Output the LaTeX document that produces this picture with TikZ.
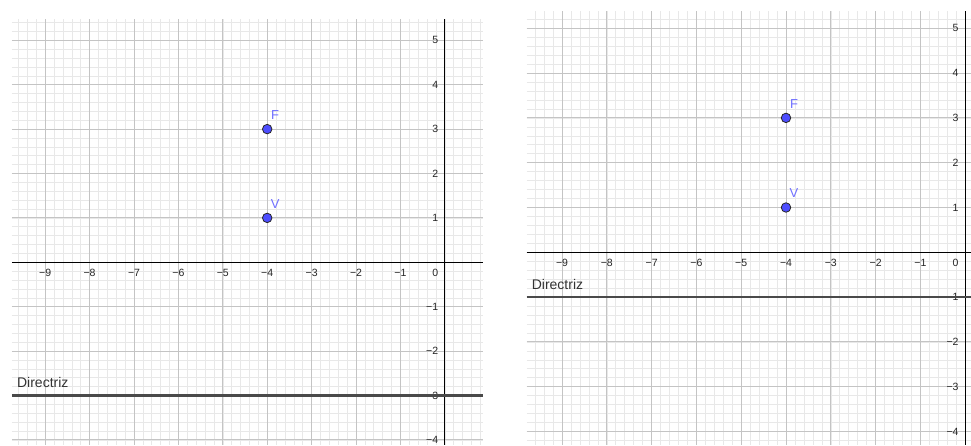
\documentclass[tikz,border=0pt]{standalone}
\usepackage{fontspec}
\setmainfont{Liberation Sans}
\usepackage{tikz}
\usetikzlibrary{positioning}
\definecolor{gridmajor}{HTML}{C4C4C4}
\definecolor{gridminor}{HTML}{E8E8E8}
\definecolor{ptblue}{HTML}{4D4DFF}
\definecolor{labblue}{HTML}{7070FF}
\definecolor{dirgray}{HTML}{4A4A4A}

\begin{document}
\begin{tikzpicture}[x=1pt,y=1pt,
  minor/.style={gridminor,line width=0.6pt},
  major/.style={gridmajor,line width=0.9pt},
  axis/.style={black,line width=1.1pt},
  num/.style={inner sep=0pt,text=black!85,font=\fontsize{10.5}{12}\selectfont},
  pt/.style={circle,draw=black!85,fill=ptblue,line width=0.8pt,inner sep=0pt,minimum size=9.5pt},
  ptlab/.style={inner sep=0pt,text=labblue,font=\fontsize{13}{15}\selectfont},
  dirline/.style={dirgray,line width=2.6pt},
  dirlab/.style={inner sep=0pt,anchor=base west,text=black!80,font=\fontsize{14}{16}\selectfont}]
\useasboundingbox[fill=white] (0,0) rectangle (971,445);
\foreach \p/\ox/\oy/\u/\xa/\xb/\ya/\yb/\d in {a/444.8/182.7/44.4/-9.75/0.86/-4.11/5.48/-3,b/965.2/192.7/44.8/-9.79/0.13/-4.30/5.39/-1}{
\begin{scope}[shift={(\ox pt,\oy pt)},x=\u pt,y=\u pt]
\draw[minor] (\xa,\ya) grid[step=0.2] (\xb,\yb);
\draw[major] (\xa,\ya) grid[step=1] (\xb,\yb);
\draw[axis] (\xa,0) -- (\xb,0);
\draw[axis] (0,\ya) -- (0,\yb);
\foreach \n in {1,...,9}
  \node[num,yshift=-10.4pt] (x\p\n) at (-\n,0) {−\n};
\foreach \n in {1,...,5}
  \node[num,anchor=east,xshift=-6.5pt] (yp\p\n) at (0,\n) {\n};
\foreach \n in {1,...,4}
  \node[num,anchor=east,xshift=-6.5pt] (yn\p\n) at (0,-\n) {−\n};
\node[num,anchor=east,xshift=-6.5pt,yshift=-10.4pt] (o\p) at (0,0) {0};
\draw[dirline] (\xa,\d) -- (\xb,\d);
\node[dirlab,xshift=5pt,yshift=8pt] (dir\p) at (\xa,\d) {Directriz};
\node[pt] (F\p) at (-4,3) {};
\node[pt] (V\p) at (-4,1) {};
\node[ptlab] (F\p lab) at ([shift={(8pt,14pt)}]F\p.center) {F};
\node[ptlab] (V\p lab) at ([shift={(8pt,14pt)}]V\p.center) {V};
\end{scope}}
\end{tikzpicture}
\end{document}
